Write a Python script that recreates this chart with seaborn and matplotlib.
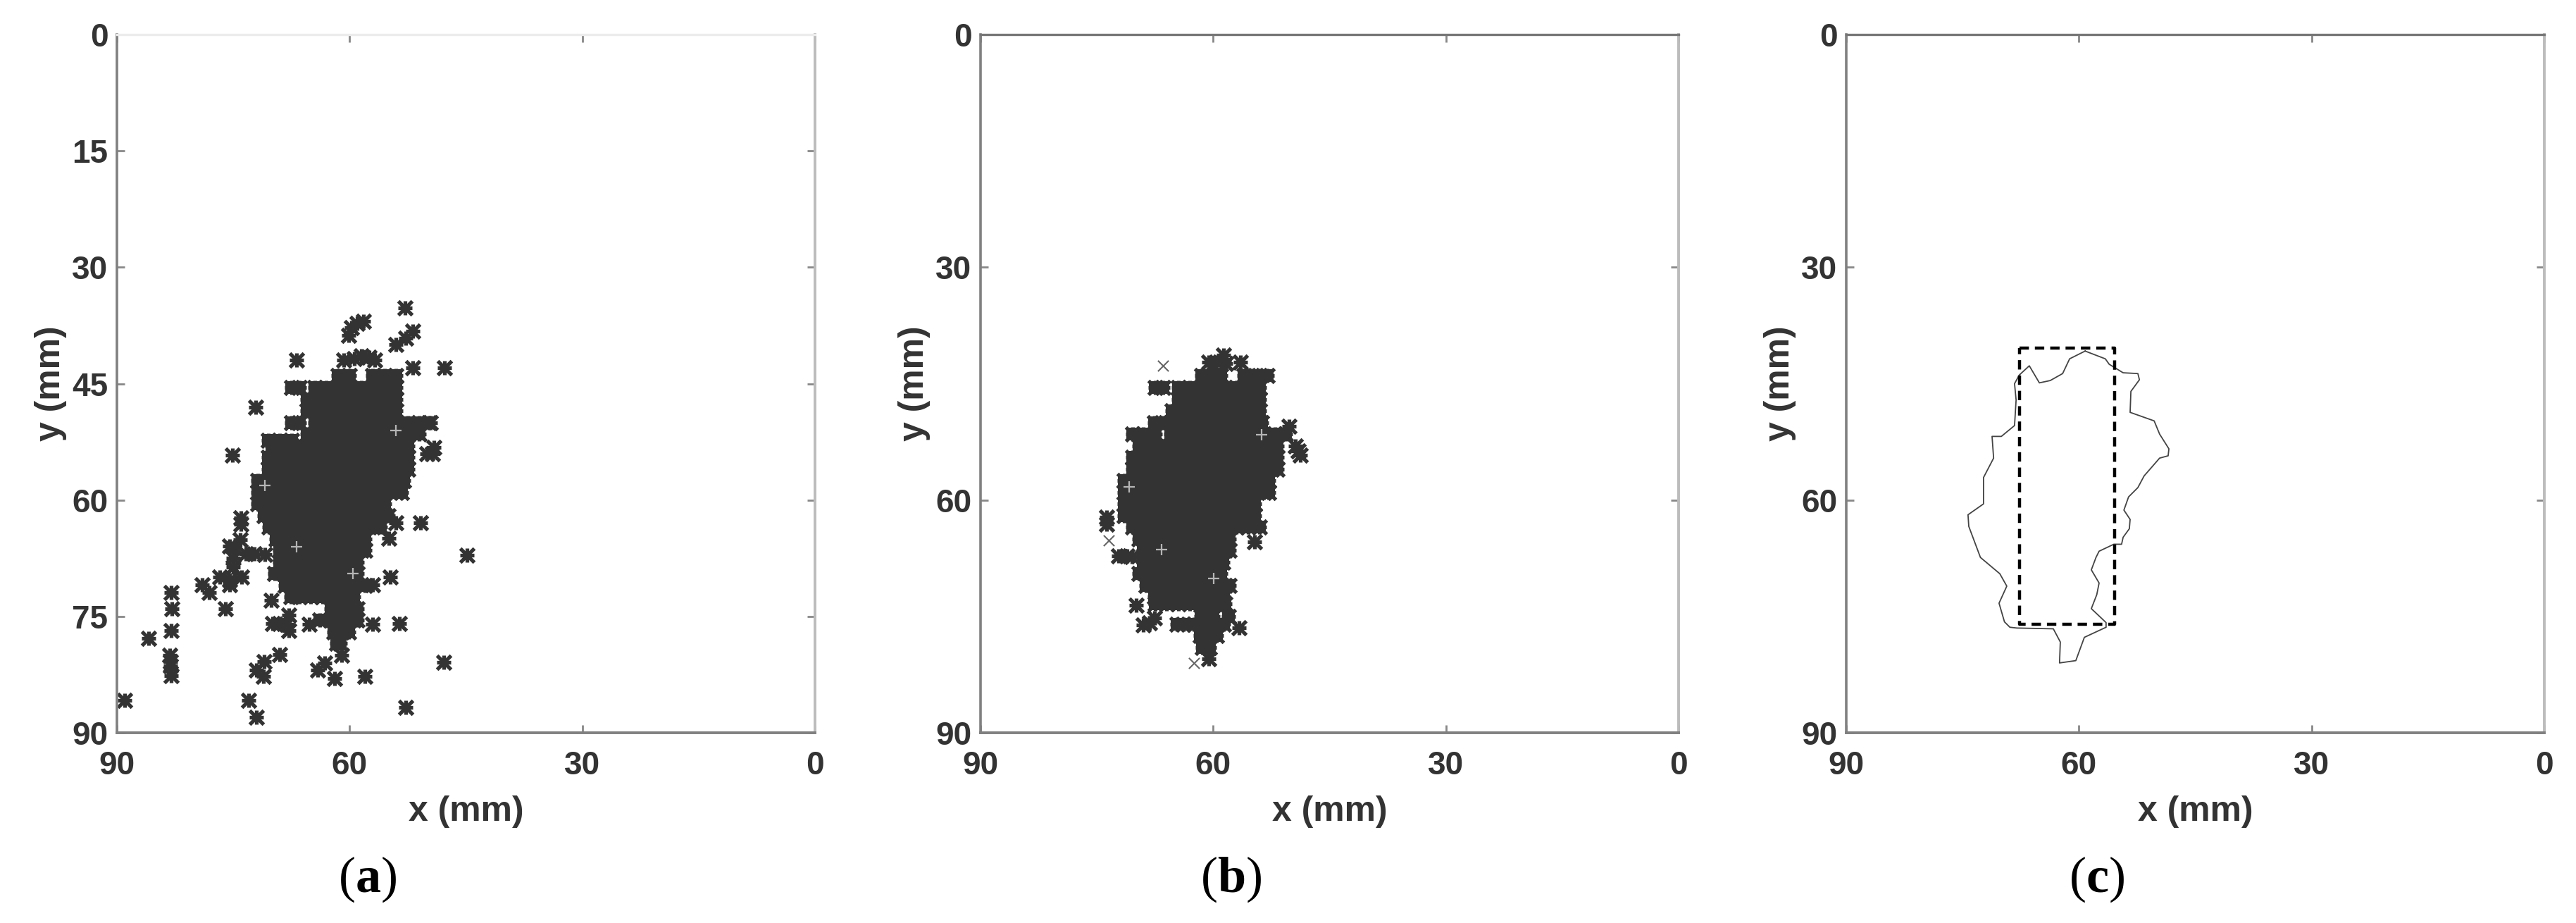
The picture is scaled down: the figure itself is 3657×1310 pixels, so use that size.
import pandas as pd
import matplotlib
matplotlib.use('Agg')
import matplotlib.pyplot as plt
import seaborn as sns

# panel (a), dense part read row by row (mm)
a_row_y = [44, 45.5, 47, 48.5, 50, 51.5, 52.3, 53, 54.5, 56, 57.5, 59, 60.5, 62, 63.5, 65, 66.5, 68, 69.5, 71, 72.5, 74, 75.5, 77, 78.5]
a_row_x = [
    [61.5, 60, 57, 55.5, 54],
    [67.5, 66.5, 64.5, 63, 61.5, 60, 58.5, 57, 55.5, 54],
    [65.5, 64.5, 63, 61.5, 60, 58.5, 57, 55.5, 54],
    [65.5, 64.5, 63, 61.5, 60, 58.5, 57, 55.5, 54],
    [67.5, 66.5, 64.5, 63, 61.5, 60, 58.5, 57, 55.5, 54, 52.5, 51, 49.8],
    [65.5, 64.5, 63, 61.5, 60, 58.5, 57, 55.5, 54, 52.5, 51],
    [70.5, 69, 67.5],
    [70, 69, 67.5, 66, 64.5, 63, 61.5, 60, 58.5, 57, 55.5, 54, 52.5],
    [70.5, 69, 67.5, 66, 64.5, 63, 61.5, 60, 58.5, 57, 55.5, 54, 52.5],
    [70.5, 69, 67.5, 66, 64.5, 63, 61.5, 60, 58.5, 57, 55.5, 54, 52.5],
    [71.8, 70.5, 69, 67.5, 66, 64.5, 63, 61.5, 60, 58.5, 57, 55.5, 54, 53],
    [71.8, 70.5, 69, 67.5, 66, 64.5, 63, 61.5, 60, 58.5, 57, 55.5, 54, 53.3],
    [71.8, 70.5, 69, 67.5, 66, 64.5, 63, 61.5, 60, 58.5, 57, 55.5],
    [71, 69.5, 68, 66.5, 65, 63.5, 62, 60.5, 59, 57.5, 56, 55],
    [70.4, 69, 67.5, 66, 64.5, 63, 61.5, 60, 58.5, 57, 56],
    [69.5, 68, 66.5, 65, 63.5, 62, 60.5, 59, 58],
    [69, 67.5, 66, 64.5, 63, 61.5, 60, 58.5, 58],
    [69, 67.5, 66, 64.5, 63, 61.5, 60, 59],
    [69.7, 68.5, 67, 65.5, 64, 62.5, 61, 59.5, 59],
    [68.3, 67, 65.5, 64, 62.5, 61, 59.5, 58],
    [67.6, 66.5, 65, 63.5, 62, 60.5, 59.5],
    [62.4, 61, 59.5, 59],
    [63.8, 62.5, 61, 59.5, 59],
    [62, 61, 60.1],
    [61.7, 61.2],
]
# panel (a), scattered points around the dense part
a_out_x = [52.9, 58.2, 59, 59.8, 60.1, 51.9, 52.8, 54, 58.5, 57.5, 56.8, 60.8, 59.4, 66.8, 51.9, 47.8, 72.1, 75.1,
           49.6, 49.1, 49.3, 50, 54, 50.9, 54.9, 44.9, 54.8, 57, 74, 74, 74.1, 75.5, 74.8, 75, 75, 73.4, 72.3, 70.9,
           76.7, 75.5, 73.9, 75.5, 79, 78.1, 76, 70.1, 83, 82.9, 83, 85.9, 83.2, 83.1, 83, 83.1, 89, 73, 72, 52.8,
           69, 71, 72, 71.1, 47.9, 63.2, 64.1, 61.9, 58, 61, 57, 53.6, 69.9, 69, 68.1, 67.8, 67.8, 65.2]
a_out_y = [35.2, 37, 37.2, 37.8, 38.8, 38.2, 39.1, 40, 41.4, 41.6, 42, 42, 41.8, 42, 43, 43, 48, 54.2,
           50, 53.2, 54, 54, 62.9, 62.9, 64.9, 67.1, 69.9, 70.9, 62.3, 63.1, 65.1, 65.9, 66.1, 67.5, 68.7, 66.9, 66.9, 67,
           69.9, 70.3, 69.9, 70.9, 70.9, 71.9, 74, 72.9, 71.9, 74, 76.8, 77.8, 80, 81.4, 82.6, 80.8, 85.8, 85.8, 88, 86.7,
           79.9, 80.8, 81.9, 82.7, 80.9, 81, 81.9, 83, 82.7, 80, 76, 75.9, 75.9, 75.9, 76, 74.8, 76.8, 76]
# light specks left inside the blob
a_gap_x = [70.9, 66.8, 54, 59.6]
a_gap_y = [58.1, 66, 51, 69.5]

# panel (b)
b_row_y = [44, 45.5, 47, 48.5, 50, 51.5, 53, 54.5, 56, 57.5, 59, 60.5, 62, 63.5, 65, 66.5, 68, 69.5, 71, 72.5, 73.4, 75, 76, 77.5, 79]
b_row_x = [
    [61.5, 60, 59, 56, 55, 54, 53],
    [67.5, 66.5, 64.5, 63, 61.5, 60, 58.5, 57, 55.5, 54],
    [64.5, 63, 61.5, 60, 58.5, 57, 55.5, 54],
    [65.3, 64, 62.5, 61, 59.5, 58, 56.5, 55, 54],
    [67.6, 66.6, 65.5, 64, 62.5, 61, 59.5, 58, 56.5, 55, 53.8],
    [70.4, 69, 67.5, 65.5, 64, 62.5, 61, 59.5, 58, 56.5, 55, 53.5, 52, 50.7],
    [69.6, 68, 66.5, 65, 63.5, 62, 60.5, 59, 57.5, 56, 54.5, 53, 51.8],
    [70.4, 69, 67.5, 66, 64.5, 63, 61.5, 60, 58.5, 57, 55.5, 54, 52.5, 51.8],
    [70.4, 69, 67.5, 66, 64.5, 63, 61.5, 60, 58.5, 57, 55.5, 54, 52.5, 51.8],
    [71.5, 70, 68.5, 67, 65.5, 64, 62.5, 61, 59.5, 58, 56.5, 55, 53.5, 52.9],
    [71.5, 70, 68.5, 67, 65.5, 64, 62.5, 61, 59.5, 58, 56.5, 55, 53.5, 52.9],
    [71.5, 70, 68.5, 67, 65.5, 64, 62.5, 61, 59.5, 58, 56.5, 55, 54.7],
    [71.5, 70, 68.5, 67, 65.5, 64, 62.5, 61, 59.5, 58, 56.5, 55, 54.7],
    [70.4, 69, 67.5, 66, 64.5, 63, 61.5, 60, 58.5, 57, 55.5, 54],
    [69.6, 68, 66.5, 65, 63.5, 62, 60.5, 59, 57.9],
    [69, 67.5, 66, 64.5, 63, 61.5, 60, 58.5, 57.9],
    [69, 67.5, 66, 64.5, 63, 61.5, 60, 58.8],
    [69.6, 68, 66.5, 65, 63.5, 62, 60.5, 59],
    [68.7, 67.5, 66, 64.5, 63, 61.5, 60, 58.5, 57.9],
    [67.6, 66, 64.5, 63, 61.5, 60, 58.7],
    [67.5, 66, 64.5, 63, 61.5, 60, 58.5],
    [61.6, 60, 58],
    [64.7, 63.8, 62.5, 61, 59.5, 58.7],
    [61.7, 60.5, 59.6],
    [61.4, 60.5],
]
b_out_x = [58.7, 60.6, 59.6, 56.5, 58.4, 50.2, 49, 49.4, 48.8, 54.7, 72.2, 71.1, 70.5, 69.9, 68.2, 69, 67.6, 56.7, 60.6, 73.7, 73.7]
b_out_y = [41.3, 42.2, 42.2, 42.2, 42.4, 50.5, 53.7, 53, 54.2, 65.4, 67.2, 67.2, 67.3, 73.6, 75.8, 76.1, 75.2, 76.5, 80.5, 62.2, 63.1]
# the few thin crosses at the edge of (b)
b_thin_x = [66.5, 73.5, 62.5]
b_thin_y = [42.7, 65.2, 81]
b_gap_x = [70.8, 66.7, 53.8, 59.9]
b_gap_y = [58.3, 66.4, 51.6, 70.1]

# panel (c) outline and dashed box
c_edge_x = [59.2, 56.6, 56.1, 54.3, 52.4, 52.2, 53.3, 53.4, 50.3, 49.6, 48.4, 48.5, 49.6, 51.6, 52.4, 53.6, 54.2, 53.4, 53.5, 54.3,
            54.5, 55.5, 57.4, 57.8, 58.4, 57.4, 57.7, 58.4, 56.5, 56.5, 59.3, 60.4, 62.5, 62.4, 63.3, 68, 68.9, 69.6, 70.3, 69.3,
            70.2, 72.7, 74.2, 74.3, 72.3, 72.3, 71, 71.2, 70, 68.3, 68.1, 68.3, 67.7, 66.4, 65.1, 63.7, 62.1, 61.2, 59.2]
c_edge_y = [40.8, 41.8, 42.5, 43.6, 43.7, 44.5, 46, 48.7, 49.8, 51.5, 53.4, 54.3, 54.6, 56.9, 58.4, 59.6, 61.3, 62.5, 63.7, 64.8,
            65.7, 65.7, 66.6, 67.4, 69, 70.7, 72.2, 74, 75.8, 76.4, 77.7, 80.7, 81, 78.3, 76.6, 76.5, 76.4, 75.7, 73.3, 71.1,
            69.5, 67.4, 63.4, 61.9, 60.5, 57.1, 54.6, 51.8, 51.8, 50.4, 47.1, 45, 43.9, 42.7, 44.9, 44.6, 43.7, 41.8, 40.8]
box_x = [67.7, 55.4, 55.4, 67.7, 67.7]
box_y = [40.4, 40.4, 76, 76, 40.4]

ticks_a = [0, 15, 30, 45, 60, 75, 90]
ticks_bc = [0, 30, 60, 90]
xticks = [90, 60, 30, 0]
panel_names = ['a', 'b', 'c']

W, H = 3657, 1310
INK = '#333333'
sns.set_theme(style='white')
plt.rcParams['font.family'] = ['Liberation Sans', 'DejaVu Sans']
plt.rcParams['mathtext.fontset'] = 'custom'
plt.rcParams['mathtext.bf'] = 'Liberation Serif:bold'
plt.rcParams['mathtext.rm'] = 'Liberation Serif'

def rows_to_frame(row_y, row_x):
    xs, ys = [], []
    for y, row in zip(row_y, row_x):
        for x in row:
            xs.append(x)
            ys.append(y)
    return pd.DataFrame({'x': xs, 'y': ys})

def draw_points(ax, rows, out, gaps, size=205, lw=3.8):
    # squares close the little holes between neighbouring markers
    sns.scatterplot(data=rows, x='x', y='y', ax=ax, marker='s', s=160, color=INK, linewidth=0)
    both = pd.concat([rows, out])
    sns.scatterplot(data=both, x='x', y='y', ax=ax, marker='x', s=size, color=INK, linewidth=lw)
    sns.scatterplot(data=both, x='x', y='y', ax=ax, marker='+', s=size, color=INK, linewidth=lw)
    sns.scatterplot(data=gaps, x='x', y='y', ax=ax, marker='+', s=130, color='#b5b5b5', linewidth=1.6)

fig = plt.figure(figsize=(W / 100, H / 100), dpi=100, facecolor='white')
lefts = [166, 1392, 2621]
axes = []
for left in lefts:
    axes.append(fig.add_axes([left / W, 1 - 1040 / H, 991 / W, 991 / H]))

draw_points(axes[0], rows_to_frame(a_row_y, a_row_x), pd.DataFrame({'x': a_out_x, 'y': a_out_y}),
            pd.DataFrame({'x': a_gap_x, 'y': a_gap_y}))
draw_points(axes[1], rows_to_frame(b_row_y, b_row_x), pd.DataFrame({'x': b_out_x, 'y': b_out_y}),
            pd.DataFrame({'x': b_gap_x, 'y': b_gap_y}))
thin = pd.DataFrame({'x': b_thin_x, 'y': b_thin_y})
sns.scatterplot(data=thin, x='x', y='y', ax=axes[1], marker='x', s=120, color='#666666', linewidth=1.5)

outline = pd.DataFrame({'x': c_edge_x, 'y': c_edge_y})
sns.lineplot(data=outline, x='x', y='y', ax=axes[2], sort=False, estimator=None, color='#444444', linewidth=1.3)
box = pd.DataFrame({'x': box_x, 'y': box_y})
sns.lineplot(data=box, x='x', y='y', ax=axes[2], sort=False, estimator=None, color='black', linewidth=3.2,
             linestyle=(0, (3.0, 1.9)))

for i, ax in enumerate(axes):
    ax.set_xlim(90, 0)
    ax.set_ylim(90, 0)
    ax.set_xticks(xticks)
    ax.set_yticks(ticks_a if i == 0 else ticks_bc)
    ax.tick_params(axis='both', which='both', direction='in', length=8, width=2, color='#888888',
                   top=True, right=True, bottom=True, left=True, labelsize=33, labelcolor=INK)
    ax.tick_params(axis='x', pad=18)
    ax.tick_params(axis='y', pad=9)
    for lab in ax.get_xticklabels() + ax.get_yticklabels():
        lab.set_fontweight('bold')
    ax.set_xlabel('x (mm)', fontsize=36, fontweight='bold', color=INK, va='center')
    ax.set_ylabel('y (mm)', fontsize=36, fontweight='bold', color=INK, va='center')
    ax.xaxis.set_label_coords(0.5, -112 / 991)
    ax.yaxis.set_label_coords(-94 / 991, 0.5)
    ax.spines['left'].set_color('#808080')
    ax.spines['left'].set_linewidth(2.6)
    ax.spines['bottom'].set_color('#808080')
    ax.spines['bottom'].set_linewidth(2.8)
    ax.spines['top'].set_color('#ececec' if i == 0 else '#777777')
    ax.spines['top'].set_linewidth(2.4)
    ax.spines['right'].set_color('#bcbcbc')
    ax.spines['right'].set_linewidth(2.8)
    fig.text((lefts[i] + 356) / W, 1 - 1248 / H, '($\\mathbf{' + panel_names[i] + '}$)', fontsize=52,
             family='Liberation Serif', color='black', ha='center', va='center')

fig.savefig('out.png', dpi=100)
